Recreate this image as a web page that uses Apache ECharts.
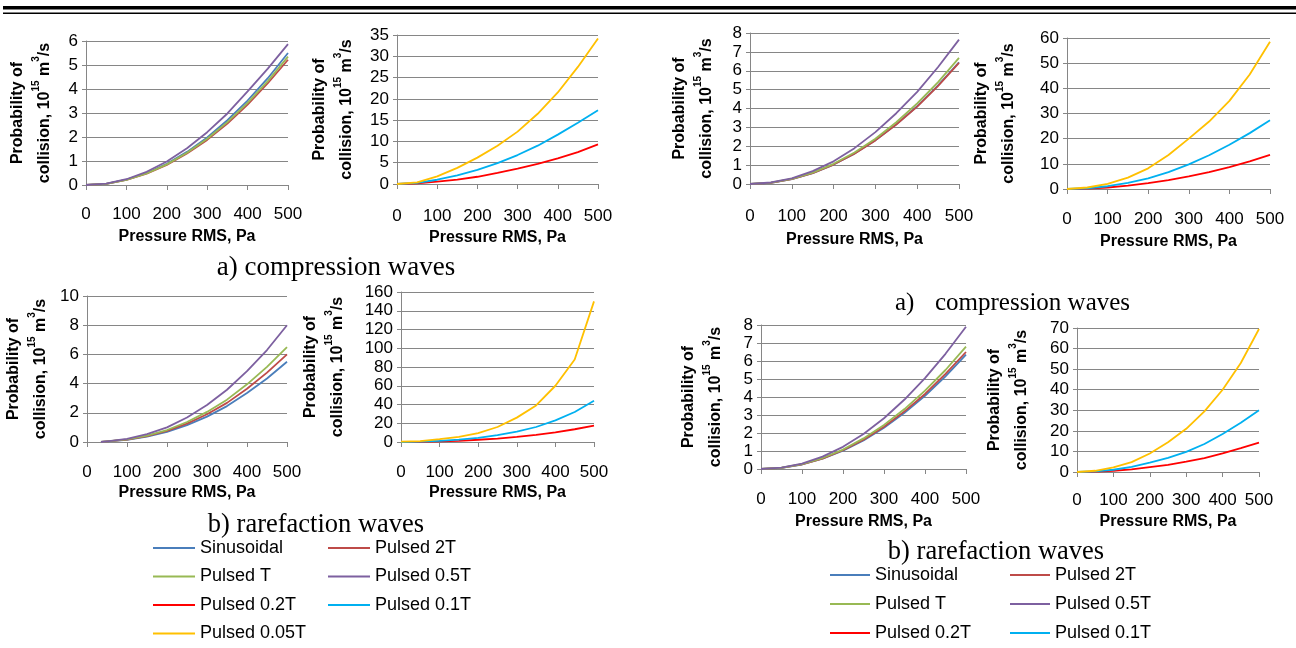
<!DOCTYPE html>
<html>
<head>
<meta charset="utf-8">
<title>Probability of collision vs pressure RMS</title>
<script src="https://cdn.jsdelivr.net/npm/echarts@6/dist/echarts.min.js"></script>
<style>html,body{margin:0;padding:0;background:#fff;}</style>
</head>
<body>
<div id="chart" style="width:1296px;height:648px;"></div>
<script>
// pressure RMS, Pa
var pressure = [0, 50, 100, 150, 200, 250, 300, 350, 400, 450, 500];
var pressureLate = [35, 50, 100, 150, 200, 250, 300, 350, 400, 450, 500];

var waveNames = ['Sinusoidal', 'Pulsed 2T', 'Pulsed T', 'Pulsed 0.5T', 'Pulsed 0.2T', 'Pulsed 0.1T', 'Pulsed 0.05T'];
var waveColors = ['#4a7ebb', '#be4b48', '#98b954', '#7d60a0', '#ff0000', '#00b0f0', '#ffc000'];

// a) compression waves, left figure
var compL_sin = [0, 0.05, 0.22, 0.5, 0.88, 1.38, 1.98, 2.7, 3.52, 4.45, 5.5];
var compL_2T = [0, 0.05, 0.21, 0.47, 0.84, 1.31, 1.88, 2.56, 3.35, 4.24, 5.22];
var compL_T = [0, 0.05, 0.21, 0.48, 0.86, 1.34, 1.93, 2.62, 3.42, 4.33, 5.35];
var compL_05T = [0, 0.06, 0.24, 0.55, 0.98, 1.53, 2.2, 2.98, 3.9, 4.85, 5.87];
var compL_02T = [0, 0.15, 0.55, 1.05, 1.7, 2.6, 3.6, 4.7, 6.0, 7.5, 9.3];
var compL_01T = [0, 0.25, 1.0, 2.0, 3.3, 4.9, 6.8, 9.0, 11.6, 14.4, 17.3];
var compL_005T = [0, 0.4, 1.8, 3.8, 6.2, 9.0, 12.3, 16.5, 21.5, 27.5, 34.2];

// b) rarefaction waves, left figure
var rareL_sin = [0, 0.04, 0.15, 0.37, 0.7, 1.16, 1.74, 2.46, 3.35, 4.35, 5.5];
var rareL_2T = [0, 0.04, 0.16, 0.4, 0.76, 1.26, 1.9, 2.68, 3.65, 4.75, 6.0];
var rareL_T = [0, 0.04, 0.18, 0.43, 0.82, 1.37, 2.06, 2.9, 3.95, 5.15, 6.5];
var rareL_05T = [0, 0.05, 0.21, 0.54, 1.0, 1.68, 2.53, 3.58, 4.85, 6.3, 8.0];
var rareL_02T = [0, 0.2, 0.6, 1.3, 2.4, 3.7, 5.4, 7.6, 10.3, 13.6, 17.5];
var rareL_01T = [0, 0.4, 1.3, 2.6, 4.5, 7.3, 11, 16, 23, 32, 44];
var rareL_005T = [0.3, 1.0, 3.0, 5.5, 9.5, 16, 26, 39, 60, 88, 150];

// a) compression waves, right figure
var compR_sin = [0, 0.06, 0.26, 0.58, 1.03, 1.61, 2.32, 3.16, 4.12, 5.22, 6.45];
var compR_2T = [0, 0.06, 0.26, 0.58, 1.03, 1.6, 2.31, 3.15, 4.1, 5.2, 6.42];
var compR_T = [0, 0.07, 0.27, 0.6, 1.07, 1.67, 2.4, 3.27, 4.27, 5.4, 6.68];
var compR_05T = [0, 0.08, 0.3, 0.68, 1.2, 1.9, 2.75, 3.75, 4.88, 6.2, 7.65];
var compR_02T = [0, 0.15, 0.6, 1.3, 2.3, 3.5, 5.0, 6.7, 8.7, 11.0, 13.6];
var compR_01T = [0, 0.3, 1.1, 2.4, 4.2, 6.7, 9.8, 13.4, 17.6, 22.2, 27.3];
var compR_005T = [0, 0.6, 2.0, 4.5, 8.2, 13.5, 20, 26.8, 35, 45.5, 58.5];

// b) rarefaction waves, right figure
var rareR_sin = [0, 0.06, 0.25, 0.57, 1.02, 1.59, 2.29, 3.12, 4.07, 5.15, 6.35];
var rareR_2T = [0, 0.06, 0.26, 0.58, 1.04, 1.63, 2.35, 3.2, 4.17, 5.28, 6.5];
var rareR_T = [0, 0.07, 0.27, 0.61, 1.08, 1.7, 2.45, 3.33, 4.35, 5.5, 6.8];
var rareR_05T = [0, 0.08, 0.3, 0.69, 1.23, 1.94, 2.82, 3.86, 5.05, 6.4, 7.9];
var rareR_02T = [0, 0.15, 0.6, 1.3, 2.4, 3.5, 5, 6.8, 9.1, 11.6, 14.3];
var rareR_01T = [0, 0.3, 1.1, 2.5, 4.5, 6.9, 9.8, 13.6, 18.5, 23.9, 30];
var rareR_005T = [0, 0.6, 2.2, 4.8, 9, 14.5, 21, 29.5, 40, 53, 69.5];

var FONT = 'Liberation Sans';

// grid box: left, top, width, height
var panels = [
    {box: [86, 41, 202, 144], max: 6, step: 1, xs: pressure, yGap: 28, xGap: 44, lblGap: 21,
        lines: [[0, compL_sin], [1, compL_2T], [2, compL_T], [3, compL_05T]]},
    {box: [397, 35, 201, 149], max: 35, step: 5, xs: pressure, yGap: 37, xGap: 46, lblGap: 24,
        lines: [[4, compL_02T], [5, compL_01T], [6, compL_005T]]},
    {box: [750, 33, 209, 151], max: 8, step: 1, xs: pressure, yGap: 30, xGap: 48, lblGap: 24,
        lines: [[0, compR_sin], [1, compR_2T], [2, compR_T], [3, compR_05T]]},
    {box: [1067, 38, 203, 151], max: 60, step: 10, xs: pressure, yGap: 45, xGap: 45, lblGap: 22,
        lines: [[4, compR_02T], [5, compR_01T], [6, compR_005T]]},
    {box: [87, 296, 200, 146], max: 10, step: 2, xs: pressureLate, yGap: 33, xGap: 43, lblGap: 22,
        lines: [[0, rareL_sin], [1, rareL_2T], [2, rareL_T], [3, rareL_05T]]},
    {box: [401, 292, 193, 150], max: 160, step: 20, xs: pressure, yGap: 50, xGap: 43, lblGap: 22,
        lines: [[4, rareL_02T], [5, rareL_01T], [6, rareL_005T]]},
    {box: [761, 325, 205, 144], max: 8, step: 1, xs: pressure, yGap: 32, xGap: 45, lblGap: 22,
        lines: [[0, rareR_sin], [1, rareR_2T], [2, rareR_T], [3, rareR_05T]]},
    {box: [1077, 328, 182, 144], max: 70, step: 10, xs: pressure, yGap: 42, xGap: 42, lblGap: 20,
        lines: [[4, rareR_02T], [5, rareR_01T], [6, rareR_005T]]}
];

var yTitle = '{t|Probability of}\n{t|collision, 10}{s|15}{t| m}{s|3}{t|/s}';
var axisGray = '#868686';

var grids = [], xAxes = [], yAxes = [], series = [];
panels.forEach(function (p, i) {
    grids.push({left: p.box[0], top: p.box[1], width: p.box[2], height: p.box[3]});
    xAxes.push({
        type: 'value', gridIndex: i, min: 0, max: 500, interval: 100,
        name: 'Pressure RMS, Pa', nameLocation: 'middle', nameGap: p.xGap,
        nameTextStyle: {fontFamily: FONT, fontSize: 16, fontWeight: 'bold', color: '#000'},
        axisLine: {onZero: false, lineStyle: {color: axisGray, width: 1}},
        axisTick: {show: true, length: 5, lineStyle: {color: axisGray}},
        axisLabel: {fontFamily: FONT, fontSize: 17, color: '#000', margin: p.lblGap},
        splitLine: {show: false}
    });
    yAxes.push({
        type: 'value', gridIndex: i, min: 0, max: p.max, interval: p.step,
        name: yTitle, nameLocation: 'middle', nameRotate: 90, nameGap: p.yGap,
        nameTextStyle: {
            rich: {
                t: {fontFamily: FONT, fontSize: 16, fontWeight: 'bold', color: '#000', lineHeight: 27},
                s: {fontFamily: FONT, fontSize: 10, fontWeight: 'bold', color: '#000', lineHeight: 17, verticalAlign: 'top'}
            }
        },
        axisLine: {show: true, lineStyle: {color: axisGray, width: 1}},
        axisTick: {show: true, length: 4, lineStyle: {color: axisGray}},
        axisLabel: {fontFamily: FONT, fontSize: 17, color: '#000', margin: 8},
        splitLine: {show: true, lineStyle: {color: axisGray, width: 1}}
    });
    p.lines.forEach(function (l) {
        series.push({
            type: 'line', name: waveNames[l[0]], xAxisIndex: i, yAxisIndex: i,
            data: p.xs.map(function (x, k) { return [x, l[1][k]]; }),
            symbol: 'none', smooth: false,
            lineStyle: {color: waveColors[l[0]], width: 1.8},
            itemStyle: {color: waveColors[l[0]]}
        });
    });
});

function legendCol(left, top, names, gap, width) {
    return {
        left: left, top: top, orient: 'vertical', padding: 0, itemGap: gap,
        itemWidth: width, itemHeight: 2, icon: 'rect', selectedMode: false,
        data: names,
        textStyle: {fontFamily: FONT, fontSize: 18, color: '#000'}
    };
}

var option = {
    animation: false,
    backgroundColor: '#fff',
    grid: grids,
    xAxis: xAxes,
    yAxis: yAxes,
    series: series,
    legend: [
        legendCol(153, 539, ['Sinusoidal', 'Pulsed T', 'Pulsed 0.2T', 'Pulsed 0.05T'], 10.5, 42),
        legendCol(328, 539, ['Pulsed 2T', 'Pulsed 0.5T', 'Pulsed 0.1T'], 10.5, 42),
        legendCol(830, 566, ['Sinusoidal', 'Pulsed T', 'Pulsed 0.2T'], 11, 40),
        legendCol(1010, 566, ['Pulsed 2T', 'Pulsed 0.5T', 'Pulsed 0.1T'], 11, 40)
    ],
    graphic: [
        {type: 'rect', shape: {x: 3, y: 6, width: 1293, height: 3.5}, style: {fill: '#000'}},
        {type: 'rect', shape: {x: 3, y: 12.5, width: 1293, height: 1.5}, style: {fill: '#000'}},
        {type: 'text', x: 336, y: 268, style: {text: 'a) compression waves', fontFamily: 'Liberation Serif', fontSize: 27, fill: '#000', align: 'center', verticalAlign: 'middle'}},
        {type: 'text', x: 895, y: 303, style: {text: 'a)', fontFamily: 'Liberation Serif', fontSize: 25, fill: '#000', align: 'left', verticalAlign: 'middle'}},
        {type: 'text', x: 935, y: 303, style: {text: 'compression waves', fontFamily: 'Liberation Serif', fontSize: 25, fill: '#000', align: 'left', verticalAlign: 'middle'}},
        {type: 'text', x: 316, y: 525, style: {text: 'b) rarefaction waves', fontFamily: 'Liberation Serif', fontSize: 26.5, fill: '#000', align: 'center', verticalAlign: 'middle'}},
        {type: 'text', x: 996, y: 552, style: {text: 'b) rarefaction waves', fontFamily: 'Liberation Serif', fontSize: 26.5, fill: '#000', align: 'center', verticalAlign: 'middle'}}
    ]
};

var chart = echarts.init(document.getElementById('chart'));
chart.setOption(option);
</script>
</body>
</html>
